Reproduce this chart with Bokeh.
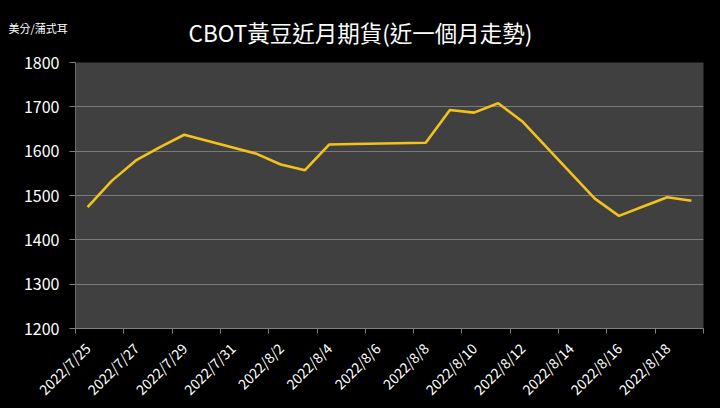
import datetime as dt
from bokeh.plotting import figure
from bokeh.models import FixedTicker, Label, Range1d
from bokeh.embed import file_html
from bokeh.resources import INLINE

# ---- data ----
start = dt.date(2022, 7, 25)
dates = ["2022-07-25", "2022-07-26", "2022-07-27", "2022-07-28", "2022-07-29",
         "2022-08-01", "2022-08-02", "2022-08-03", "2022-08-04", "2022-08-05",
         "2022-08-08", "2022-08-09", "2022-08-10", "2022-08-11", "2022-08-12",
         "2022-08-15", "2022-08-16", "2022-08-17", "2022-08-18", "2022-08-19"]
prices = [1474, 1533, 1579, 1609, 1637,
          1594, 1570, 1557, 1615, 1616,
          1619, 1693, 1687, 1708, 1667,
          1493, 1454, 1475, 1496, 1488]
y_ticks = [1200, 1300, 1400, 1500, 1600, 1700, 1800]
n_days = 26
x_label_days = list(range(0, 25, 2))
x_labels = [(start + dt.timedelta(days=d)).strftime("%Y/%-m/%-d") for d in x_label_days]

title_text = "CBOT黃豆近月期貨(近一個月走勢)"
unit_text = "美分/蒲式耳"

xs = [(dt.date.fromisoformat(d) - start).days for d in dates]

FONT = "Noto Sans CJK TC"

p = figure(width=720, height=408, output_backend="svg", toolbar_location=None,
           x_range=Range1d(-0.5, n_days - 0.5), y_range=Range1d(1200, 1800),
           border_fill_color="#000000",
           min_border_left=75, min_border_right=17, min_border_top=62, min_border_bottom=79)
p.outline_line_color = None
p.background_fill_color = "#404040"

p.line(xs, prices, line_color="#F2C21B", line_width=2.6)

# axes
p.yaxis.ticker = FixedTicker(ticks=y_ticks)
p.yaxis.major_label_text_color = "#FFFFFF"
p.yaxis.major_label_text_font = FONT
p.yaxis.major_label_text_font_size = "16px"
p.yaxis.major_tick_line_color = "#808080"
p.yaxis.major_tick_out = 6
p.yaxis.major_tick_in = 0
p.yaxis.minor_tick_line_color = None
p.yaxis.axis_line_color = "#6a6a6a"
p.yaxis.major_label_standoff = 10

p.xaxis.ticker = FixedTicker(ticks=x_label_days,
                             minor_ticks=[d - 0.5 for d in range(0, n_days + 1, 2)])
p.xaxis.major_label_overrides = {d: l for d, l in zip(x_label_days, x_labels)}
p.xaxis.major_label_orientation = 0.785398
p.xaxis.major_label_text_color = "#FFFFFF"
p.xaxis.major_label_text_font = FONT
p.xaxis.major_label_text_font_size = "14px"
p.xaxis.major_tick_line_color = None
p.xaxis.minor_tick_line_color = "#808080"
p.xaxis.minor_tick_out = 5
p.xaxis.minor_tick_in = 0
p.xaxis.axis_line_color = "#808080"
p.xaxis.major_label_standoff = 11

p.xgrid.grid_line_color = None
p.ygrid.ticker = FixedTicker(ticks=y_ticks)
p.ygrid.grid_line_color = "#7a7a7a"
p.ygrid.grid_line_width = 1

# title and unit as labels (placed in the side panel so they are not clipped)
px_per_day = 628 / n_days
px_per_unit = 267 / 600
def dx(px):
    return (px - 75) / px_per_day - 0.5
def dy(py):
    return 1200 + (329 - py) / px_per_unit

p.add_layout(Label(x=dx(360), y=dy(31), text=title_text, text_color="#FFFFFF",
                   text_font=FONT, text_font_size="22.5px", text_align="center",
                   text_baseline="middle"), "above")
p.add_layout(Label(x=dx(8), y=dy(27), text=unit_text, text_color="#FFFFFF",
                   text_font=FONT, text_font_size="11px", text_align="left",
                   text_baseline="middle"), "above")

html = file_html(p, INLINE)
html = html.replace("<head>", "<head><style>html,body{background:#000000;}</style>", 1)
open("out.html", "w").write(html)
